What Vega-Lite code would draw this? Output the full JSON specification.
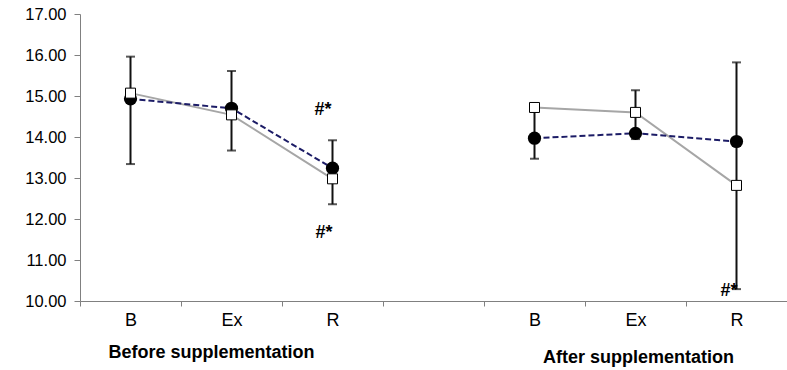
{
  "$schema": "https://vega.github.io/schema/vega-lite/v6.json",
  "width": 707,
  "height": 287,
  "autosize": {"type": "none"},
  "padding": {"left": 80, "top": 14, "right": 0, "bottom": 69},
  "config": {
    "view": {"stroke": null},
    "font": "Liberation Sans",
    "axis": {"domainColor": "#808080", "tickColor": "#808080", "labelColor": "#000000", "grid": false, "labelFont": "Liberation Sans", "titleFont": "Liberation Sans"}
  },
  "datasets": {
    "pts": [
      {"cat": "B_before", "period": "before", "series": "circle", "v": 14.93},
      {"cat": "Ex_before", "period": "before", "series": "circle", "v": 14.70},
      {"cat": "R_before", "period": "before", "series": "circle", "v": 13.24},
      {"cat": "B_after", "period": "after", "series": "circle", "v": 13.97},
      {"cat": "Ex_after", "period": "after", "series": "circle", "v": 14.09},
      {"cat": "R_after", "period": "after", "series": "circle", "v": 13.89},
      {"cat": "B_before", "period": "before", "series": "square", "v": 15.07},
      {"cat": "Ex_before", "period": "before", "series": "square", "v": 14.54},
      {"cat": "R_before", "period": "before", "series": "square", "v": 12.98},
      {"cat": "B_after", "period": "after", "series": "square", "v": 14.72},
      {"cat": "Ex_after", "period": "after", "series": "square", "v": 14.60},
      {"cat": "R_after", "period": "after", "series": "square", "v": 12.82}
    ],
    "errs": [
      {"cat": "B_before", "lo": 13.34, "hi": 15.96},
      {"cat": "Ex_before", "lo": 13.67, "hi": 15.61},
      {"cat": "R_before", "lo": 12.36, "hi": 13.92},
      {"cat": "B_after", "lo": 13.47, "hi": 14.68},
      {"cat": "Ex_after", "lo": 13.95, "hi": 15.14},
      {"cat": "R_after", "lo": 10.29, "hi": 15.82}
    ],
    "marks": [
      {"cat": "R_before", "v": 14.66, "label": "#*", "side": "up"},
      {"cat": "R_before", "v": 11.66, "label": "#*", "side": "down"},
      {"cat": "R_after", "v": 10.24, "label": "#*", "side": "after"}
    ]
  },
  "encoding": {
    "x": {
      "field": "cat",
      "type": "ordinal",
      "scale": {"type": "point", "padding": 0.5, "domain": ["B_before", "Ex_before", "R_before", "gap", "B_after", "Ex_after", "R_after"]},
      "axis": {
        "title": null,
        "labelAngle": 0,
        "labelExpr": "datum.value == 'gap' ? '' : split(datum.value, '_')[0]",
        "tickOffset": -50.5,
        "labelOffset": 50.5,
        "tickSize": 5,
        "labelPadding": 5,
        "labelFontSize": 18,
        "labelBaseline": "top"
      }
    }
  },
  "layer": [
    {
      "data": {"name": "pts"},
      "transform": [{"filter": "datum.series == 'square'"}],
      "mark": {"type": "line", "color": "#a6a6a6", "strokeWidth": 2},
      "encoding": {
        "y": {
          "field": "v", "type": "quantitative",
          "scale": {"domain": [10, 17], "nice": false, "zero": false},
          "axis": {
            "title": "IL-10 pg/ml",
            "titleFontSize": 11.5,
            "titleFontWeight": "bold",
            "titleX": -71,
            "titleY": 143,
            "titleAlign": "center",
            "titleBaseline": "middle",
            "values": [10, 11, 12, 13, 14, 15, 16, 17],
            "format": ".2f",
            "labelFontSize": 16.5,
            "tickSize": 6,
            "labelPadding": 8
          }
        },
        "detail": {"field": "period"}
      }
    },
    {
      "data": {"name": "pts"},
      "transform": [{"filter": "datum.series == 'circle'"}],
      "mark": {"type": "line", "color": "#1c1c66", "strokeWidth": 2, "strokeDash": [6, 3]},
      "encoding": {
        "y": {"field": "v", "type": "quantitative"},
        "detail": {"field": "period"}
      }
    },
    {
      "data": {"name": "errs"},
      "mark": {"type": "errorbar", "rule": {"strokeWidth": 2, "color": "#111111"}, "ticks": {"size": 9, "thickness": 2, "color": "#111111"}},
      "encoding": {
        "y": {"field": "lo", "type": "quantitative", "title": null},
        "y2": {"field": "hi"}
      }
    },
    {
      "data": {"name": "pts"},
      "transform": [{"filter": "datum.series == 'circle'"}],
      "mark": {"type": "point", "shape": "circle", "filled": true, "color": "#000000", "size": 175, "opacity": 1},
      "encoding": {"y": {"field": "v", "type": "quantitative"}}
    },
    {
      "data": {"name": "pts"},
      "transform": [{"filter": "datum.series == 'square'"}],
      "mark": {"type": "point", "shape": "square", "filled": true, "fill": "#ffffff", "stroke": "#000000", "strokeWidth": 1, "size": 100, "opacity": 1},
      "encoding": {"y": {"field": "v", "type": "quantitative"}}
    },
    {
      "data": {"name": "marks"},
      "mark": {"type": "text", "fontSize": 18, "fontWeight": "bold", "color": "#000000", "baseline": "middle", "align": "center"},
      "encoding": {
        "y": {"field": "v", "type": "quantitative"},
        "text": {"field": "label"},
        "xOffset": {"field": "side", "type": "nominal", "scale": {"type": "ordinal", "domain": ["up", "down", "after"], "range": [-10, -7, -26]}, "legend": null}
      }
    },
    {
      "data": {"values": [{"cat": "Ex_before", "label": "Before supplementation"}]},
      "mark": {"type": "text", "fontSize": 18, "fontWeight": "bold", "color": "#000000", "baseline": "middle", "align": "center", "dx": -20},
      "encoding": {"y": {"datum": 8.73}, "text": {"field": "label"}}
    },
    {
      "data": {"values": [{"cat": "Ex_after", "label": "After supplementation"}]},
      "mark": {"type": "text", "fontSize": 18, "fontWeight": "bold", "color": "#000000", "baseline": "middle", "align": "center", "dx": 3},
      "encoding": {"y": {"datum": 8.61}, "text": {"field": "label"}}
    }
  ]
}
